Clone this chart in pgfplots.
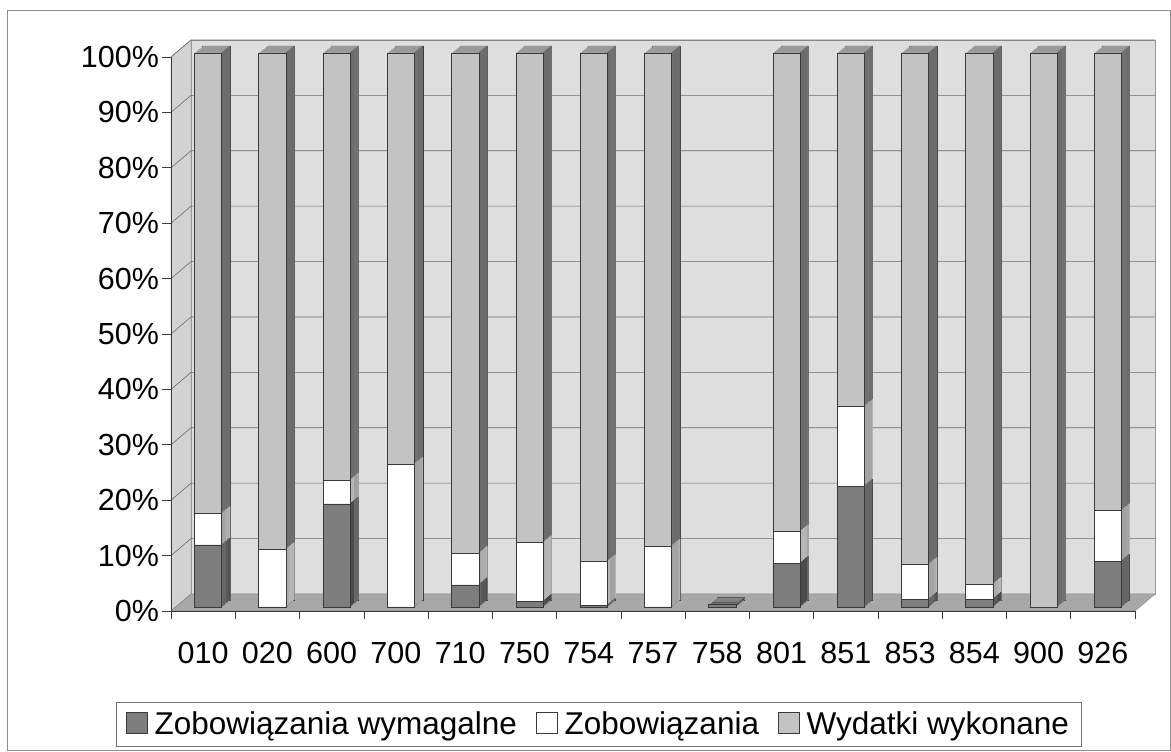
\documentclass[border=0pt]{standalone}
\usepackage{pgfplots}
\pgfplotsset{compat=1.18}
\usepackage{pgfplotstable}
\usepackage{fontspec}
\setmainfont{Liberation Sans}

\definecolor{cWym}{HTML}{7D7D7D}
\definecolor{cWymS}{HTML}{4B4B4B}
\definecolor{cWymT}{HTML}{5C5C5C}
\definecolor{cZob}{HTML}{FFFFFF}
\definecolor{cZobS}{HTML}{B5B5B5}
\definecolor{cZobT}{HTML}{E2E2E2}
\definecolor{cWyk}{HTML}{C3C3C3}
\definecolor{cWykS}{HTML}{6C6C6C}
\definecolor{cWykT}{HTML}{9A9A9A}
\definecolor{cWall}{HTML}{DEDEDE}
\definecolor{cSide}{HTML}{D2D2D2}
\definecolor{cFloor}{HTML}{A8A8A8}
\definecolor{cEdge}{HTML}{3A3A3A}
\definecolor{cGrid}{HTML}{6A6A6A}

\pgfplotstableread{
kat wym zob wyk
010 11.2 5.7 83.1
020 0 10.4 89.6
600 18.6 4.3 77.1
700 0 25.8 74.2
710 4.0 5.7 90.3
750 1.0 10.6 88.4
754 0.3 7.9 91.8
757 0 11.0 89.0
758 0.4 0 0
801 7.9 5.7 86.4
851 21.8 14.4 63.8
853 1.4 6.3 92.3
854 1.4 2.7 95.9
900 0 0 100
926 8.3 9.1 82.6
}\dane

\pgfplotsset{
  mybar/.style={ybar, bar width=27.3pt, bar shift=0pt, forget plot},
  strip/.style={ybar, bar width=1.3pt, bar shift={13pt+#1*1.05pt}, forget plot, draw=none, xshift=5pt, yshift={4pt+#1*0.875pt}},
  topc/.style={ybar, bar width=27.3pt, bar shift=0pt, forget plot, draw=none, xshift={5pt+#1*1.05pt}, yshift={4pt+#1*0.875pt}},
}

\begin{document}
\begin{tikzpicture}[x=1pt,y=1pt]
\useasboundingbox (0,0) rectangle (1171,752);
\draw[color=black!45, line width=0.8pt] (7,2) rectangle (1170,742);
\begin{axis}[
  at={(171pt,141pt)}, anchor=south west,
  width=964pt, height=554pt, scale only axis,
  xmin=-0.5, xmax=14.5, ymin=0, ymax=100,
  clip=false,
  axis x line*=bottom, axis y line*=left,
  axis line style={-, draw=cEdge, line width=0.6pt},
  tick align=outside,
  major tick length=8.5pt,
  every tick/.style={draw=cEdge, line width=0.6pt},
  ytick={0,10,...,100},
  yticklabels={0\%,10\%,20\%,30\%,40\%,50\%,60\%,70\%,80\%,90\%,100\%},
  xtick={-0.5,0.5,...,14.5},
  xticklabel=\empty,
  extra x ticks={0,1,...,14},
  extra x tick labels={010,020,600,700,710,750,754,757,758,801,851,853,854,900,926},
  extra x tick style={tick style={draw=none}, xticklabel style={yshift=-19pt}},
  tick label style={font=\fontsize{30.5}{36}\selectfont},
  legend columns=3,
  legend style={at={(0.4435,-0.204)}, anchor=center, draw=black!55, line width=0.6pt,
    font=\fontsize{31.5}{36}\selectfont, inner xsep=10pt, inner ysep=8pt,
    /tikz/every odd column/.append style={column sep=5pt},
    /tikz/every even column/.append style={column sep=17pt}},
  legend image code/.code={\draw[#1] (0pt,-9.5pt) rectangle (21pt,11.5pt);},
]
% side wall, back wall, floor
\draw[fill=cSide, draw=cGrid!70, line width=0.5pt] (axis cs:-0.5,0) -- (axis cs:-0.5,100) -- ([shift={(20pt,17pt)}]axis cs:-0.5,100) -- ([shift={(20pt,17pt)}]axis cs:-0.5,0) -- cycle;
\draw[fill=cWall, draw=cGrid!70, line width=0.5pt] ([shift={(20pt,17pt)}]axis cs:-0.5,0) rectangle ([shift={(20pt,17pt)}]axis cs:14.5,100);
\pgfplotsinvokeforeach{10,20,30,40,50,60,70,80,90,100}{
  \draw[cGrid, line width=0.6pt] (axis cs:-0.5,#1) -- ([shift={(20pt,17pt)}]axis cs:-0.5,#1) -- ([shift={(20pt,17pt)}]axis cs:14.5,#1);
}
\draw[fill=cFloor, draw=cGrid!80, line width=0.5pt] (axis cs:-0.5,0) -- (axis cs:14.5,0) -- ([shift={(20pt,17pt)}]axis cs:14.5,0) -- ([shift={(20pt,17pt)}]axis cs:-0.5,0) -- cycle;
\draw[cEdge, line width=0.6pt] (axis cs:-0.5,0) -- (axis cs:-0.5,100);
\draw[cEdge, line width=0.6pt] (axis cs:-0.5,0) -- (axis cs:14.5,0);

% back outline of each bar
\addplot[mybar, fill=cWykT, draw=cEdge, line width=0.9pt, xshift=13.4pt, yshift=11pt]
  table[x expr=\coordindex, y expr=\thisrow{wym}+\thisrow{zob}+\thisrow{wyk}]{\dane};
% top faces (shifted copies, back to front)
\pgfplotsinvokeforeach{8,7,6,5,4,3,2,1}{
  \addplot[topc=#1, fill=cWykT]
    table[x expr=\coordindex, y expr=\thisrow{wym}+\thisrow{zob}+\thisrow{wyk}]{\dane};
  \addplot[topc=#1, fill=cZobT]
    table[x expr=\coordindex, y expr=\thisrow{wym}+\thisrow{zob}]{\dane};
  \addplot[topc=#1, fill=cWymT]
    table[x expr=\coordindex, y expr=\thisrow{wym}]{\dane};
}
% side faces (thin strips)
\pgfplotsinvokeforeach{1,2,3,4,5,6,7,8}{
  \addplot[strip=#1, fill=cWykS]
    table[x expr=\coordindex, y expr=\thisrow{wym}+\thisrow{zob}+\thisrow{wyk}]{\dane};
  \addplot[strip=#1, fill=cZobS]
    table[x expr=\coordindex, y expr=\thisrow{wym}+\thisrow{zob}]{\dane};
  \addplot[strip=#1, fill=cWymS]
    table[x expr=\coordindex, y expr=\thisrow{wym}]{\dane};
}
% front faces
\addplot[mybar, fill=cWyk, draw=cEdge, line width=0.6pt, xshift=5pt, yshift=4pt]
  table[x expr=\coordindex, y expr=\thisrow{wym}+\thisrow{zob}+\thisrow{wyk}]{\dane};
\addplot[mybar, fill=cZob, draw=cEdge, line width=0.6pt, xshift=5pt, yshift=4pt]
  table[x expr=\coordindex, y expr=\thisrow{wym}+\thisrow{zob}]{\dane};
\addplot[mybar, fill=cWym, draw=cEdge, line width=0.6pt, xshift=5pt, yshift=4pt]
  table[x expr=\coordindex, y expr=\thisrow{wym}]{\dane};

\addlegendimage{fill=cWym, draw=cEdge, line width=0.6pt}
\addlegendentry{Zobowiązania wymagalne}
\addlegendimage{fill=cZob, draw=cEdge, line width=0.6pt}
\addlegendentry{Zobowiązania}
\addlegendimage{fill=cWyk, draw=cEdge, line width=0.6pt}
\addlegendentry{Wydatki wykonane}
\end{axis}
\end{tikzpicture}
\end{document}
